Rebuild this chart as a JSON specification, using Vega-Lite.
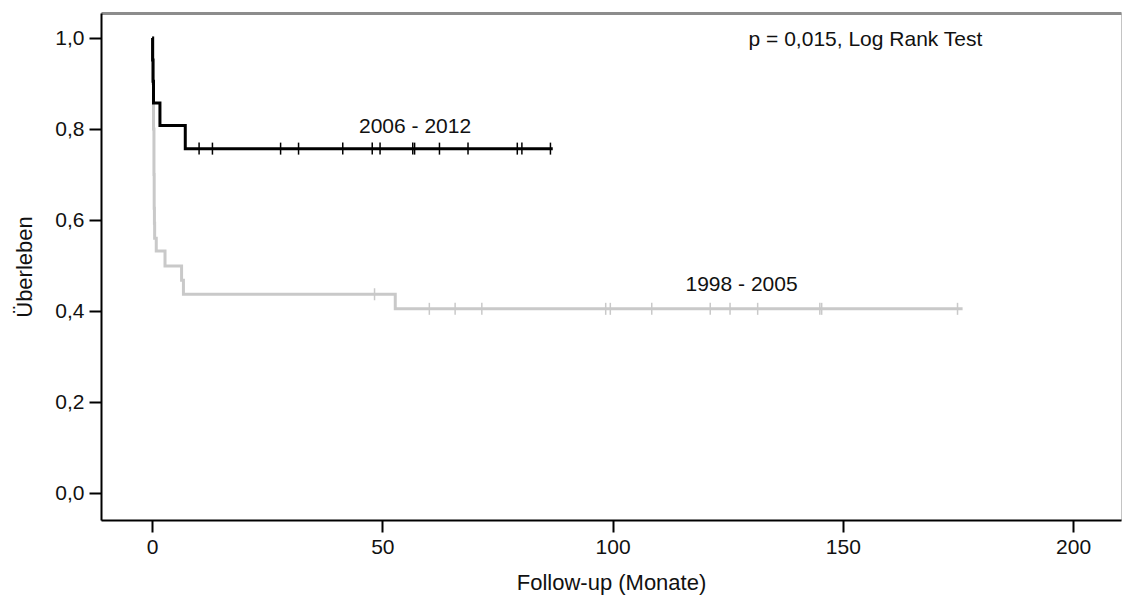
{
  "$schema": "https://vega.github.io/schema/vega-lite/v6.json",
  "width": 1020,
  "height": 507,
  "autosize": {"type": "none"},
  "padding": {"left": 101, "top": 13, "right": 1, "bottom": 79},
  "background": "white",
  "config": {
    "font": "Liberation Sans",
    "view": {"stroke": "#c4c4c4", "strokeWidth": 1},
    "axis": {
      "grid": false,
      "domainColor": "#000000",
      "domainWidth": 2,
      "tickColor": "#000000",
      "tickWidth": 2,
      "tickSize": 12,
      "labelFont": "Liberation Sans",
      "labelFontSize": 21,
      "labelColor": "#111111",
      "titleFont": "Liberation Sans",
      "titleFontSize": 22,
      "titleFontWeight": "normal",
      "titleColor": "#111111"
    }
  },
  "datasets": {
    "steps": [
      {"group": "1998 - 2005", "t": 0, "s": 1.0},
      {"group": "1998 - 2005", "t": 0.2, "s": 0.9},
      {"group": "1998 - 2005", "t": 0.3, "s": 0.8},
      {"group": "1998 - 2005", "t": 0.4, "s": 0.7},
      {"group": "1998 - 2005", "t": 0.45, "s": 0.626},
      {"group": "1998 - 2005", "t": 0.5, "s": 0.593},
      {"group": "1998 - 2005", "t": 0.55, "s": 0.56},
      {"group": "1998 - 2005", "t": 0.9, "s": 0.532},
      {"group": "1998 - 2005", "t": 2.8, "s": 0.499},
      {"group": "1998 - 2005", "t": 6.4, "s": 0.468},
      {"group": "1998 - 2005", "t": 6.8, "s": 0.437},
      {"group": "1998 - 2005", "t": 52.8, "s": 0.405},
      {"group": "1998 - 2005", "t": 176, "s": 0.405},
      {"group": "2006 - 2012", "t": 0, "s": 1.0},
      {"group": "2006 - 2012", "t": 0.1, "s": 0.952},
      {"group": "2006 - 2012", "t": 0.2, "s": 0.905},
      {"group": "2006 - 2012", "t": 0.3, "s": 0.857},
      {"group": "2006 - 2012", "t": 1.7, "s": 0.808},
      {"group": "2006 - 2012", "t": 7.2, "s": 0.757},
      {"group": "2006 - 2012", "t": 87, "s": 0.757}
    ],
    "censors": [
      {"group": "1998 - 2005", "t": 48.3, "s": 0.437},
      {"group": "1998 - 2005", "t": 60.2, "s": 0.405},
      {"group": "1998 - 2005", "t": 65.8, "s": 0.405},
      {"group": "1998 - 2005", "t": 71.6, "s": 0.405},
      {"group": "1998 - 2005", "t": 98.5, "s": 0.405},
      {"group": "1998 - 2005", "t": 99.5, "s": 0.405},
      {"group": "1998 - 2005", "t": 108.5, "s": 0.405},
      {"group": "1998 - 2005", "t": 121.2, "s": 0.405},
      {"group": "1998 - 2005", "t": 125.5, "s": 0.405},
      {"group": "1998 - 2005", "t": 131.5, "s": 0.405},
      {"group": "1998 - 2005", "t": 145.0, "s": 0.405},
      {"group": "1998 - 2005", "t": 145.4, "s": 0.405},
      {"group": "1998 - 2005", "t": 174.9, "s": 0.405},
      {"group": "2006 - 2012", "t": 10.2, "s": 0.757},
      {"group": "2006 - 2012", "t": 13.1, "s": 0.757},
      {"group": "2006 - 2012", "t": 27.9, "s": 0.757},
      {"group": "2006 - 2012", "t": 31.8, "s": 0.757},
      {"group": "2006 - 2012", "t": 41.4, "s": 0.757},
      {"group": "2006 - 2012", "t": 47.8, "s": 0.757},
      {"group": "2006 - 2012", "t": 49.5, "s": 0.757},
      {"group": "2006 - 2012", "t": 56.6, "s": 0.757},
      {"group": "2006 - 2012", "t": 57.0, "s": 0.757},
      {"group": "2006 - 2012", "t": 62.4, "s": 0.757},
      {"group": "2006 - 2012", "t": 68.6, "s": 0.757},
      {"group": "2006 - 2012", "t": 79.3, "s": 0.757},
      {"group": "2006 - 2012", "t": 80.3, "s": 0.757},
      {"group": "2006 - 2012", "t": 86.5, "s": 0.757}
    ],
    "labels": [
      {"text": "2006 - 2012", "t": 57.1, "s": 0.804},
      {"text": "1998 - 2005", "t": 128.0, "s": 0.457},
      {"text": "p = 0,015, Log Rank Test", "t": 154.9, "s": 0.996}
    ]
  },
  "resolve": {"axis": {"x": "independent"}},
  "layer": [
    {
      "data": {"name": "steps"},
      "transform": [{"filter": "datum.group === '1998 - 2005'"}],
      "mark": {"type": "line", "interpolate": "step-after", "strokeWidth": 3, "color": "#c9c9c9"},
      "encoding": {
        "x": {
          "field": "t", "type": "quantitative",
          "scale": {"domain": [-11.1, 210.4], "nice": false, "zero": false},
          "axis": {"orient": "bottom", "values": [0, 50, 100, 150, 200], "labelPadding": 4, "title": "Follow-up (Monate)", "titlePadding": 15}
        },
        "y": {
          "field": "s", "type": "quantitative",
          "scale": {"domain": [-0.059, 1.055], "nice": false, "zero": false},
          "axis": {"values": [0, 0.2, 0.4, 0.6, 0.8, 1.0], "labelExpr": "replace(format(datum.value, '.1f'), '.', ',')", "labelPadding": 5, "title": "Überleben", "titlePadding": 18}
        }
      }
    },
    {
      "data": {"name": "censors"},
      "transform": [{"filter": "datum.group === '1998 - 2005'"}],
      "mark": {"type": "tick", "orient": "vertical", "size": 12, "thickness": 1.5, "color": "#c9c9c9", "opacity": 1},
      "encoding": {
        "x": {"field": "t", "type": "quantitative", "axis": null},
        "y": {"field": "s", "type": "quantitative"}
      }
    },
    {
      "data": {"name": "steps"},
      "transform": [{"filter": "datum.group === '2006 - 2012'"}],
      "mark": {"type": "line", "interpolate": "step-after", "strokeWidth": 3, "color": "#000000"},
      "encoding": {
        "x": {"field": "t", "type": "quantitative", "axis": null},
        "y": {"field": "s", "type": "quantitative"}
      }
    },
    {
      "data": {"name": "censors"},
      "transform": [{"filter": "datum.group === '2006 - 2012'"}],
      "mark": {"type": "tick", "orient": "vertical", "size": 12, "thickness": 1.5, "color": "#000000", "opacity": 1},
      "encoding": {
        "x": {"field": "t", "type": "quantitative", "axis": null},
        "y": {"field": "s", "type": "quantitative"}
      }
    },
    {
      "data": {"name": "labels"},
      "mark": {"type": "text", "fontSize": 21, "font": "Liberation Sans", "align": "center", "baseline": "middle", "color": "#111111"},
      "encoding": {
        "x": {"field": "t", "type": "quantitative", "axis": {"orient": "top", "labels": false, "ticks": false, "title": null, "domainColor": "#8c8c8c", "domainWidth": 3}},
        "y": {"field": "s", "type": "quantitative"},
        "text": {"field": "text"}
      }
    }
  ]
}
